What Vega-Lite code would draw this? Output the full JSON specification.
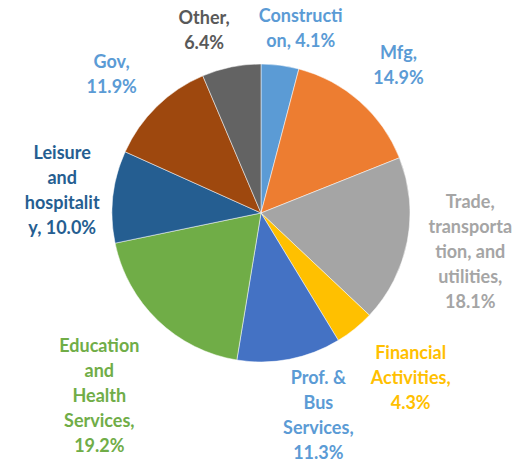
{
  "$schema": "https://vega.github.io/schema/vega-lite/v6.json",
  "width": 522,
  "height": 426,
  "autosize": "none",
  "padding": {"top": 0, "bottom": 37, "left": 0, "right": 0},
  "background": "white",
  "config": {
    "view": {"stroke": null},
    "text": {"font": "Lato", "fontWeight": "bold", "fontSize": 18, "lineHeight": 25, "lineBreak": "\n", "align": "center", "baseline": "middle"}
  },
  "data": {
    "values": [
      {"idx": 1, "category": "Construction", "value": 4.1, "label": "Constructi\non, 4.1%"},
      {"idx": 2, "category": "Mfg", "value": 14.9, "label": "Mfg,\n14.9%"},
      {"idx": 3, "category": "Trade, transportation, and utilities", "value": 18.1, "label": "Trade,\ntransporta\ntion, and\nutilities,\n18.1%"},
      {"idx": 4, "category": "Financial Activities", "value": 4.3, "label": "Financial\nActivities,\n4.3%"},
      {"idx": 5, "category": "Prof. & Bus Services", "value": 11.3, "label": "Prof. &\nBus\nServices,\n11.3%"},
      {"idx": 6, "category": "Education and Health Services", "value": 19.2, "label": "Education\nand\nHealth\nServices,\n19.2%"},
      {"idx": 7, "category": "Leisure and hospitality", "value": 10.0, "label": "Leisure\nand\nhospitalit\ny, 10.0%"},
      {"idx": 8, "category": "Gov", "value": 11.9, "label": "Gov,\n11.9%"},
      {"idx": 9, "category": "Other", "value": 6.4, "label": "Other,\n6.4%"}
    ]
  },
  "encoding": {
    "theta": {"field": "value", "type": "quantitative", "stack": true},
    "order": {"field": "idx", "type": "quantitative"},
    "color": {
      "field": "category",
      "type": "nominal",
      "legend": null,
      "scale": {
        "domain": ["Construction", "Mfg", "Trade, transportation, and utilities", "Financial Activities", "Prof. & Bus Services", "Education and Health Services", "Leisure and hospitality", "Gov", "Other"],
        "range": ["#5B9BD5", "#5B9BD5", "#A5A5A5", "#FFC000", "#5B9BD5", "#70AD47", "#255E91", "#5B9BD5", "#595959"]
      }
    }
  },
  "layer": [
    {
      "mark": {"type": "arc", "outerRadius": 149, "stroke": "white", "strokeWidth": 0.5},
      "encoding": {
        "color": {
          "field": "category",
          "type": "nominal",
          "legend": null,
          "scale": {
            "domain": ["Construction", "Mfg", "Trade, transportation, and utilities", "Financial Activities", "Prof. & Bus Services", "Education and Health Services", "Leisure and hospitality", "Gov", "Other"],
            "range": ["#5B9BD5", "#ED7D31", "#A5A5A5", "#FFC000", "#4472C4", "#70AD47", "#255E91", "#9E480E", "#636363"]
          }
        }
      }
    },
    {
      "layer": [
        {
          "mark": {"type": "text", "radius": 185, "dx": 16, "dy": -13},
          "encoding": {"text": {"condition": {"test": "datum.category == 'Construction'", "field": "label"}, "value": ""}}
        },
        {
          "mark": {"type": "text", "radius": 203, "dx": 3, "dy": -7},
          "encoding": {"text": {"condition": {"test": "datum.category == 'Mfg'", "field": "label"}, "value": ""}}
        },
        {
          "mark": {"type": "text", "radius": 213, "dx": 0, "dy": -50},
          "encoding": {"text": {"condition": {"test": "datum.category == 'Trade, transportation, and utilities'", "field": "label"}, "value": ""}}
        },
        {
          "mark": {"type": "text", "radius": 222, "dx": 10, "dy": -32},
          "encoding": {"text": {"condition": {"test": "datum.category == 'Financial Activities'", "field": "label"}, "value": ""}}
        },
        {
          "mark": {"type": "text", "radius": 207, "dx": 18, "dy": -37},
          "encoding": {"text": {"condition": {"test": "datum.category == 'Prof. & Bus Services'", "field": "label"}, "value": ""}}
        },
        {
          "mark": {"type": "text", "radius": 245, "dx": 8, "dy": -43},
          "encoding": {"text": {"condition": {"test": "datum.category == 'Education and Health Services'", "field": "label"}, "value": ""}}
        },
        {
          "mark": {"type": "text", "radius": 200, "dx": 0, "dy": -37},
          "encoding": {"text": {"condition": {"test": "datum.category == 'Leisure and hospitality'", "field": "label"}, "value": ""}}
        },
        {
          "mark": {"type": "text", "radius": 205, "dx": -6, "dy": -3},
          "encoding": {"text": {"condition": {"test": "datum.category == 'Gov'", "field": "label"}, "value": ""}}
        },
        {
          "mark": {"type": "text", "radius": 185, "dx": -20, "dy": -13},
          "encoding": {"text": {"condition": {"test": "datum.category == 'Other'", "field": "label"}, "value": ""}}
        }
      ]
    }
  ],
  "resolve": {"scale": {"color": "independent"}}
}
